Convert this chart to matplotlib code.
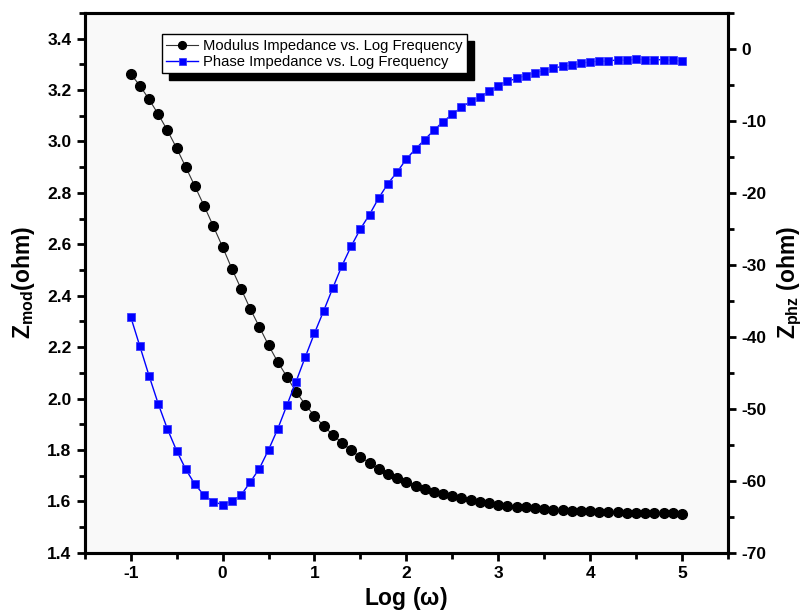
import matplotlib
matplotlib.use("Agg")
import matplotlib.pyplot as plt
import numpy as np
from matplotlib.ticker import MultipleLocator

log_freq = [-1.0, -0.9, -0.8, -0.7, -0.6, -0.5, -0.4, -0.3, -0.2, -0.1,
            0.0, 0.1, 0.2, 0.3, 0.4, 0.5, 0.6, 0.7, 0.8, 0.9,
            1.0, 1.1, 1.2, 1.3, 1.4, 1.5, 1.6, 1.7, 1.8, 1.9,
            2.0, 2.1, 2.2, 2.3, 2.4, 2.5, 2.6, 2.7, 2.8, 2.9,
            3.0, 3.1, 3.2, 3.3, 3.4, 3.5, 3.6, 3.7, 3.8, 3.9,
            4.0, 4.1, 4.2, 4.3, 4.4, 4.5, 4.6, 4.7, 4.8, 4.9, 5.0]

z_mod = [3.263, 3.217, 3.164, 3.106, 3.043, 2.974, 2.900, 2.825, 2.749, 2.670,
         2.590, 2.506, 2.428, 2.350, 2.279, 2.208, 2.143, 2.085, 2.026, 1.977,
         1.932, 1.894, 1.859, 1.828, 1.799, 1.772, 1.751, 1.727, 1.707, 1.691,
         1.675, 1.660, 1.650, 1.638, 1.628, 1.620, 1.612, 1.606, 1.598, 1.593,
         1.588, 1.584, 1.580, 1.577, 1.574, 1.571, 1.568, 1.567, 1.564, 1.563,
         1.562, 1.560, 1.559, 1.558, 1.556, 1.556, 1.555, 1.555, 1.554, 1.554, 1.553]

z_phz = [-37.2, -41.3, -45.4, -49.3, -52.8, -55.8, -58.4, -60.5, -62.0, -62.9,
         -63.3, -62.8, -62.0, -60.2, -58.3, -55.7, -52.8, -49.5, -46.2, -42.8,
         -39.5, -36.4, -33.2, -30.1, -27.4, -25.0, -23.0, -20.7, -18.7, -17.1,
         -15.3, -13.9, -12.6, -11.3, -10.1, -9.1, -8.1, -7.3, -6.7, -5.9,
         -5.1, -4.5, -4.1, -3.7, -3.3, -3.0, -2.7, -2.4, -2.3, -2.0,
         -1.8, -1.7, -1.7, -1.5, -1.6, -1.4, -1.5, -1.5, -1.5, -1.6, -1.7]

x_ticks = [-1, 0, 1, 2, 3, 4, 5]
left_ticks = [1.4, 1.6, 1.8, 2.0, 2.2, 2.4, 2.6, 2.8, 3.0, 3.2, 3.4]
right_ticks = [-70, -60, -50, -40, -30, -20, -10, 0]

plt.rcParams['font.family'] = ['Liberation Sans', 'DejaVu Sans']
plt.rcParams['axes.unicode_minus'] = False

fig = plt.figure(figsize=(8.07, 6.15), dpi=100)
ax = fig.add_axes([0.105, 0.101, 0.797, 0.878])
ax.set_facecolor('#f9f9f9')
ax2 = ax.twinx()

l1, = ax.plot(log_freq, z_mod, color='#333333', lw=0.8, marker='o', ms=7,
              mfc='black', mec='black', label='Modulus Impedance vs. Log Frequency')
l2, = ax2.plot(log_freq, z_phz, color='#0000ff', lw=1.0, marker='s', ms=6.3,
               mfc='#0000ff', mec='#3a3aff', mew=0.6, label='Phase Impedance vs. Log Frequency')

ax.set_xlim(-1.5, 5.5)
ax.set_ylim(1.4, 3.5)
ax2.set_ylim(-70, 5)
ax.set_xticks(x_ticks)
ax.set_yticks(left_ticks)
ax2.set_yticks(right_ticks)
ax.xaxis.set_minor_locator(MultipleLocator(0.5))
ax.yaxis.set_minor_locator(MultipleLocator(0.1))
ax2.yaxis.set_minor_locator(MultipleLocator(5))
ax.set_yticklabels([f"{v:.1f}" for v in left_ticks])

for a in (ax, ax2):
    for s in a.spines.values():
        s.set_linewidth(2.2)
    a.tick_params(which='major', direction='out', length=6, width=2, labelsize=12.5)
    a.tick_params(which='minor', direction='out', length=4, width=2)
    for lab in a.get_xticklabels() + a.get_yticklabels():
        lab.set_fontweight('bold')

ax.set_xlabel('Log ($\\mathregular{\\omega}$)', fontsize=16.5, fontweight='bold', labelpad=3)
ax.set_ylabel('Z$_{\\mathregular{mod}}$(ohm)', fontsize=16.5, fontweight='bold', labelpad=7)
ax2.set_ylabel('Z$_{\\mathregular{phz}}$ (ohm)', fontsize=16.5, fontweight='bold', labelpad=7, rotation=90)

leg = ax2.legend(handles=[l1, l2], loc='upper left', bbox_to_anchor=(0.108, 0.974),
                 fontsize=10.6, frameon=True, fancybox=False, edgecolor='black',
                 shadow={'color': 'black', 'alpha': 1.0, 'ox': 5, 'oy': -5},
                 borderpad=0.3, labelspacing=0.15, handlelength=2.2, handletextpad=0.3,
                 markerscale=0.8)
leg.get_frame().set_linewidth(1.0)
leg.get_frame().set_facecolor('white')

fig.savefig('out.png', dpi=100)
